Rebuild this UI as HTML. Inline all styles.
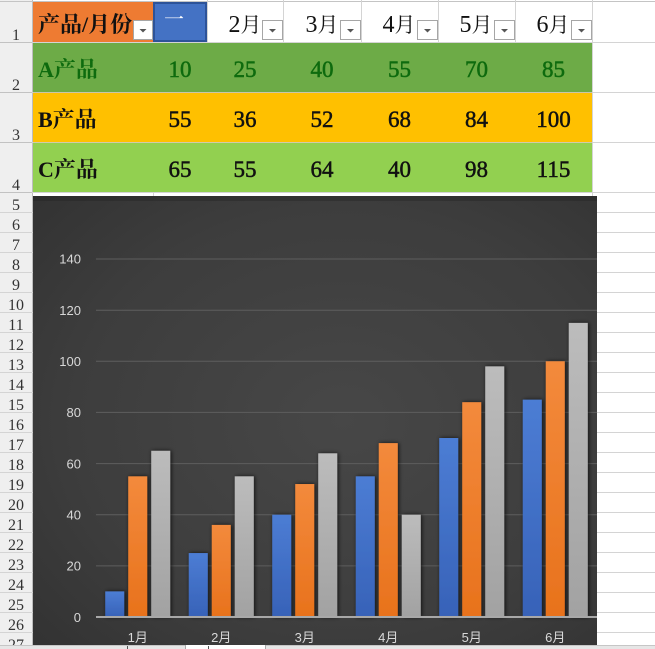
<!DOCTYPE html>
<html><head><meta charset="utf-8"><style>
html,body{margin:0;padding:0;background:#fff;}
svg{display:block;}
</style></head><body>
<svg width="655" height="649" viewBox="0 0 655 649" xmlns="http://www.w3.org/2000/svg">
<defs>
<radialGradient id="bg" cx="0.55" cy="0.5" r="0.8">
<stop offset="0" stop-color="#474747"/>
<stop offset="0.6" stop-color="#3d3d3d"/>
<stop offset="1" stop-color="#303030"/>
</radialGradient>
<linearGradient id="gb" x1="0" y1="0" x2="0" y2="1"><stop offset="0" stop-color="#4c7dd4"/><stop offset="1" stop-color="#3762b8"/></linearGradient>
<linearGradient id="go" x1="0" y1="0" x2="0" y2="1"><stop offset="0" stop-color="#f38a3c"/><stop offset="1" stop-color="#e8721c"/></linearGradient>
<linearGradient id="gg" x1="0" y1="0" x2="0" y2="1"><stop offset="0" stop-color="#bcbcbc"/><stop offset="1" stop-color="#a2a2a2"/></linearGradient>
<filter id="sh" x="-30%" y="-10%" width="160%" height="120%">
<feDropShadow dx="1" dy="0" stdDeviation="2" flood-color="#000" flood-opacity="0.75"/>
</filter>
</defs>

<rect x="0" y="0" width="32" height="649" fill="#efefef"/>
<line x1="32.5" y1="0" x2="32.5" y2="649" stroke="#bdbdbd"/>
<line x1="0" y1="1.5" x2="655" y2="1.5" stroke="#c4c4c4"/>

<g stroke="#d4d4d4" stroke-width="1">
<line x1="0" y1="42.5" x2="655" y2="42.5"/>
<line x1="0" y1="92.5" x2="655" y2="92.5"/>
<line x1="0" y1="142.5" x2="655" y2="142.5"/>
<line x1="0" y1="192.5" x2="655" y2="192.5"/>
<line x1="283.5" y1="0" x2="283.5" y2="42"/>
<line x1="361.5" y1="0" x2="361.5" y2="42"/>
<line x1="438.5" y1="0" x2="438.5" y2="42"/>
<line x1="515.5" y1="0" x2="515.5" y2="42"/>
<line x1="592.5" y1="0" x2="592.5" y2="196"/>
<line x1="153.5" y1="192" x2="153.5" y2="196"/>
<line x1="207.5" y1="0" x2="207.5" y2="42"/>
</g>
<g stroke="#d4d4d4" stroke-width="1">
<line x1="0" y1="212.5" x2="655" y2="212.5"/>
<line x1="0" y1="232.5" x2="655" y2="232.5"/>
<line x1="0" y1="252.5" x2="655" y2="252.5"/>
<line x1="0" y1="272.5" x2="655" y2="272.5"/>
<line x1="0" y1="292.5" x2="655" y2="292.5"/>
<line x1="0" y1="312.5" x2="655" y2="312.5"/>
<line x1="0" y1="332.5" x2="655" y2="332.5"/>
<line x1="0" y1="352.5" x2="655" y2="352.5"/>
<line x1="0" y1="372.5" x2="655" y2="372.5"/>
<line x1="0" y1="392.5" x2="655" y2="392.5"/>
<line x1="0" y1="412.5" x2="655" y2="412.5"/>
<line x1="0" y1="432.5" x2="655" y2="432.5"/>
<line x1="0" y1="452.5" x2="655" y2="452.5"/>
<line x1="0" y1="472.5" x2="655" y2="472.5"/>
<line x1="0" y1="492.5" x2="655" y2="492.5"/>
<line x1="0" y1="512.5" x2="655" y2="512.5"/>
<line x1="0" y1="532.5" x2="655" y2="532.5"/>
<line x1="0" y1="552.5" x2="655" y2="552.5"/>
<line x1="0" y1="572.5" x2="655" y2="572.5"/>
<line x1="0" y1="592.5" x2="655" y2="592.5"/>
<line x1="0" y1="612.5" x2="655" y2="612.5"/>
<line x1="0" y1="632.5" x2="655" y2="632.5"/>
</g>
<g stroke="#c2c2c2">
<line x1="0" y1="42.5" x2="32" y2="42.5"/><line x1="0" y1="92.5" x2="32" y2="92.5"/>
<line x1="0" y1="142.5" x2="32" y2="142.5"/><line x1="0" y1="192.5" x2="32" y2="192.5"/>
</g>

<g font-family="'Liberation Serif', serif" font-size="16" fill="#333" text-anchor="middle">
<text x="16" y="40">1</text><text x="16" y="90">2</text><text x="16" y="140">3</text><text x="16" y="190">4</text>
<text x="16" y="210">5</text><text x="16" y="230">6</text><text x="16" y="250">7</text><text x="16" y="270">8</text>
<text x="16" y="290">9</text><text x="16" y="310">10</text><text x="16" y="330">11</text><text x="16" y="350">12</text>
<text x="16" y="370">13</text><text x="16" y="390">14</text><text x="16" y="410">15</text><text x="16" y="430">16</text>
<text x="16" y="450">17</text><text x="16" y="470">18</text><text x="16" y="490">19</text><text x="16" y="510">20</text>
<text x="16" y="530">21</text><text x="16" y="550">22</text><text x="16" y="570">23</text><text x="16" y="590">24</text>
<text x="16" y="610">25</text><text x="16" y="630">26</text><text x="16" y="650">27</text>
</g>

<rect x="33" y="2" width="120" height="40" fill="#EE7B32"/>
<text x="38" y="32" font-family="'Liberation Serif','Noto Serif CJK SC',serif" font-size="22" font-weight="bold" fill="#111">产品/月份</text>
<rect x="153" y="2" width="54" height="40" fill="#4472C4"/>
<rect x="154" y="3" width="52" height="38" fill="none" stroke="#2d5399" stroke-width="2"/>
<text x="174" y="26" font-family="'Liberation Serif','Noto Serif CJK SC',serif" font-size="20" fill="#fff" text-anchor="middle">一</text>

<g font-family="'Liberation Serif','Noto Serif CJK SC',serif" fill="#111" text-anchor="middle">
<text x="245" y="32"><tspan font-size="24">2</tspan><tspan font-size="21">月</tspan></text>
<text x="322" y="32"><tspan font-size="24">3</tspan><tspan font-size="21">月</tspan></text>
<text x="399" y="32"><tspan font-size="24">4</tspan><tspan font-size="21">月</tspan></text>
<text x="476" y="32"><tspan font-size="24">5</tspan><tspan font-size="21">月</tspan></text>
<text x="553" y="32"><tspan font-size="24">6</tspan><tspan font-size="21">月</tspan></text>
</g>

<g>
<rect x="133.5" y="20.5" width="19" height="19" fill="#fff" stroke="#a6a6a6"/>
<path d="M139.5 29 h7 l-3.5 3.5z" fill="#555"/>
<rect x="262.5" y="20.5" width="20" height="19" fill="#fff" stroke="#a6a6a6"/>
<path d="M269 29 h7 l-3.5 3.5z" fill="#555"/>
<rect x="340.5" y="20.5" width="20" height="19" fill="#fff" stroke="#a6a6a6"/>
<path d="M347 29 h7 l-3.5 3.5z" fill="#555"/>
<rect x="417.5" y="20.5" width="20" height="19" fill="#fff" stroke="#a6a6a6"/>
<path d="M424 29 h7 l-3.5 3.5z" fill="#555"/>
<rect x="494.5" y="20.5" width="20" height="19" fill="#fff" stroke="#a6a6a6"/>
<path d="M501 29 h7 l-3.5 3.5z" fill="#555"/>
<rect x="571.5" y="20.5" width="20" height="19" fill="#fff" stroke="#a6a6a6"/>
<path d="M578 29 h7 l-3.5 3.5z" fill="#555"/>
</g>

<rect x="33" y="43" width="559" height="49" fill="#6DAB47"/>
<rect x="33" y="93" width="559" height="49" fill="#FFC000"/>
<rect x="33" y="143" width="559" height="49" fill="#92D050"/>
<rect x="33" y="92" width="559" height="1" fill="#b59a2a" opacity="0.25"/>
<rect x="33" y="142" width="559" height="1" fill="#c8b030" opacity="0.25"/>

<g font-family="'Liberation Serif','Noto Serif CJK SC',serif" font-size="22" font-weight="bold">
<text x="38" y="77" fill="#0E6B0E">A产品</text>
<text x="38" y="127" fill="#111">B产品</text>
<text x="38" y="177" fill="#111">C产品</text>
</g>
<g font-family="'Liberation Serif',serif" font-size="23" text-anchor="middle" stroke-width="0.5">
<g fill="#0E6B0E" stroke="#0E6B0E">
<text x="180" y="77">10</text><text x="245" y="77">25</text><text x="322" y="77">40</text>
<text x="399.5" y="77">55</text><text x="476.5" y="77">70</text><text x="553.5" y="77">85</text>
</g>
<g fill="#111" stroke="#111">
<text x="180" y="127">55</text><text x="245" y="127">36</text><text x="322" y="127">52</text>
<text x="399.5" y="127">68</text><text x="476.5" y="127">84</text><text x="553.5" y="127">100</text>
<text x="180" y="177">65</text><text x="245" y="177">55</text><text x="322" y="177">64</text>
<text x="399.5" y="177">40</text><text x="476.5" y="177">98</text><text x="553.5" y="177">115</text>
</g>
</g>

<rect x="33" y="196" width="564" height="449" fill="url(#bg)"/>
<rect x="33" y="196" width="564" height="5" fill="#222" opacity="0.4"/>

<g stroke="#5e5e5e" stroke-width="1">
<line x1="96" y1="565.9" x2="597" y2="565.9"/>
<line x1="96" y1="514.7" x2="597" y2="514.7"/>
<line x1="96" y1="463.6" x2="597" y2="463.6"/>
<line x1="96" y1="412.4" x2="597" y2="412.4"/>
<line x1="96" y1="361.3" x2="597" y2="361.3"/>
<line x1="96" y1="310.2" x2="597" y2="310.2"/>
<line x1="96" y1="259.0" x2="597" y2="259.0"/>
</g>

<g font-family="'Liberation Sans',sans-serif" font-size="13" fill="#d8d8d8" text-anchor="end">
<text x="81" y="622">0</text>
<text x="81" y="570.5">20</text>
<text x="81" y="519.5">40</text>
<text x="81" y="468.5">60</text>
<text x="81" y="417">80</text>
<text x="81" y="366">100</text>
<text x="81" y="315">120</text>
<text x="81" y="263.5">140</text>
</g>

<g filter="url(#sh)">
<rect x="105.25" y="591.43" width="19" height="25.57" fill="url(#gb)"/>
<rect x="188.75" y="553.07" width="19" height="63.93" fill="url(#gb)"/>
<rect x="272.25" y="514.71" width="19" height="102.29" fill="url(#gb)"/>
<rect x="355.75" y="476.36" width="19" height="140.64" fill="url(#gb)"/>
<rect x="439.25" y="438.0" width="19" height="179.0" fill="url(#gb)"/>
<rect x="522.75" y="399.64" width="19" height="217.36" fill="url(#gb)"/>
<rect x="128.25" y="476.36" width="19" height="140.64" fill="url(#go)"/>
<rect x="211.75" y="524.94" width="19" height="92.06" fill="url(#go)"/>
<rect x="295.25" y="484.03" width="19" height="132.97" fill="url(#go)"/>
<rect x="378.75" y="443.12" width="19" height="173.88" fill="url(#go)"/>
<rect x="462.25" y="402.2" width="19" height="214.8" fill="url(#go)"/>
<rect x="545.75" y="361.29" width="19" height="255.71" fill="url(#go)"/>
<rect x="151.25" y="450.79" width="19" height="166.21" fill="url(#gg)"/>
<rect x="234.75" y="476.36" width="19" height="140.64" fill="url(#gg)"/>
<rect x="318.25" y="453.34" width="19" height="163.66" fill="url(#gg)"/>
<rect x="401.75" y="514.71" width="19" height="102.29" fill="url(#gg)"/>
<rect x="485.25" y="366.4" width="19" height="250.6" fill="url(#gg)"/>
<rect x="568.75" y="322.93" width="19" height="294.07" fill="url(#gg)"/>
</g>

<line x1="96" y1="617" x2="597" y2="617" stroke="#a8a8a8" stroke-width="2"/>

<g font-family="'Liberation Sans','Noto Sans CJK SC',sans-serif" font-size="13" fill="#d9d9d9" text-anchor="middle">
<text x="137.75" y="642">1月</text>
<text x="221.25" y="642">2月</text>
<text x="304.75" y="642">3月</text>
<text x="388.25" y="642">4月</text>
<text x="471.75" y="642">5月</text>
<text x="555.25" y="642">6月</text>
</g>

<rect x="0" y="645" width="655" height="4" fill="#e6e6e6"/>
<line x1="0" y1="645.5" x2="655" y2="645.5" stroke="#c6c6c6"/>
<rect x="185" y="645" width="81" height="4" fill="#fff"/>
<line x1="185.5" y1="645" x2="185.5" y2="649" stroke="#aaa"/>
<line x1="265.5" y1="645" x2="265.5" y2="649" stroke="#aaa"/>
<line x1="127.5" y1="646" x2="127.5" y2="649" stroke="#555"/>
<line x1="208.5" y1="646" x2="208.5" y2="649" stroke="#555"/>
</svg>
</body></html>
